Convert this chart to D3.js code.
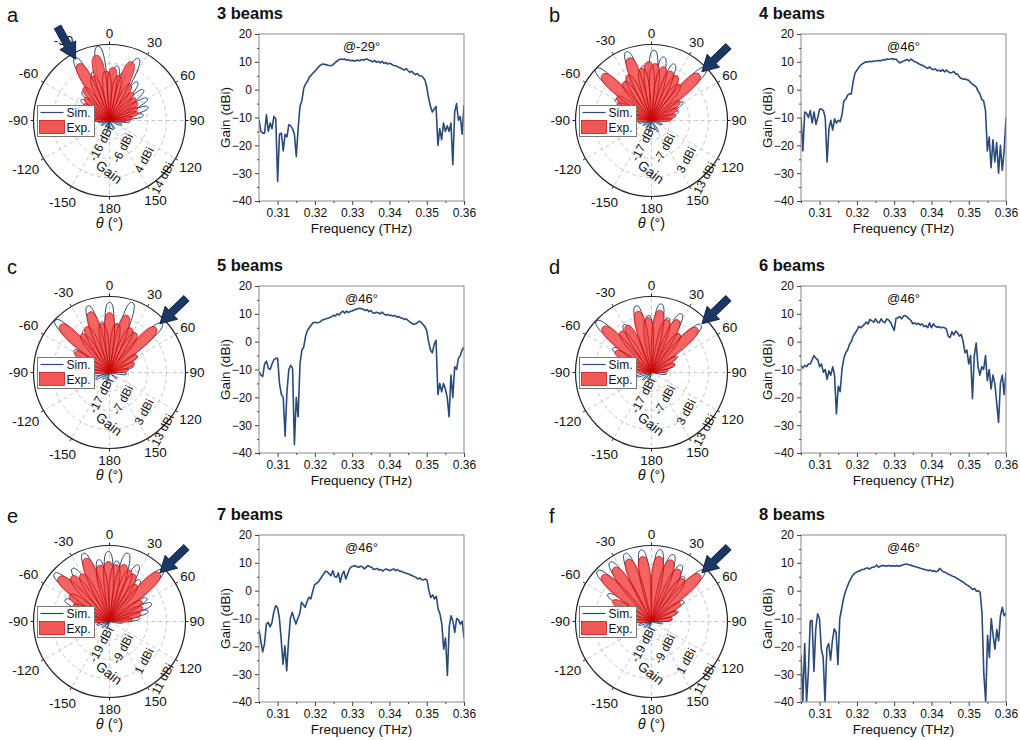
<!DOCTYPE html>
<html>
<head>
<meta charset="utf-8">
<script src="https://cdn.jsdelivr.net/npm/d3@7"></script>
<style>
  body { margin: 0; background: #fff; }
  text { font-family: "Liberation Sans", Arial, sans-serif; fill: #111; }
</style>
</head>
<body>
<svg id="fig" width="1020" height="740"></svg>
<script>
// ---- data ----
var letters = ["a", "b", "c", "d", "e", "f"];
var titles = ["3 beams", "4 beams", "5 beams", "6 beams", "7 beams", "8 beams"];
var steer = [-29, 46, 46, 46, 46, 46];
var ringTicks = [[-16, -6, 4, 14], [-17, -7, 3, 13], [-17, -7, 3, 13],
                 [-17, -7, 3, 13], [-19, -9, 1, 11], [-19, -9, 1, 11]];
var angleTicks = [0, 30, 60, 90, 120, 150, 180, -150, -120, -90, -60, -30];
var freqTicks = [0.31, 0.32, 0.33, 0.34, 0.35, 0.36];
var gainTicks = [20, 10, 0, -10, -20, -30, -40];

// gain vs frequency, 0.305 .. 0.360 THz (even steps)
var gainA = [-10.8,-15,-15.6,-15.6,-9,-15,-12,-14,-9.6,-10.5,-33,-16,-15.6,-22,-16,-17,-12.6,-13,-14,-16,-24,-14,-6,-4,0.5,2,3,4.5,5.2,6,6.6,7.4,8.2,8.8,9.2,9.1,9,8.8,8.7,8.6,9.2,9.8,10.3,10.8,11,10.8,11,10.6,10.8,10.4,10.6,10.2,10.5,10.6,10.4,10.8,10.6,10.9,11,10.6,10.4,10,10.5,9.8,10.2,9.6,10.2,9.4,9.8,9.2,9.5,9.2,8.8,8.6,8.4,8,7.8,7.4,7,7.6,6.8,6.2,6.6,5.8,5.4,5.8,5,5,4.4,3.6,1,-3,-6,-8,-7,-6,-20,-14,-18,-12,-15,-13,-15,-12,-27,-8,-5,-11,-9.6,-16,-5.5];
var gainB = [-10,-22,-8,-8.5,-10,-7.5,-12,-8,-12.5,-10,-7,-7,-7.5,-10,-26,-14,-11,-14.5,-10.5,-12,-11,-11.5,-9,-4,-3.5,-2,-1.5,-1.5,3,6,7,8,8.8,9.3,9.7,10,9.9,10.2,10,10.3,10.3,10.4,10.5,10.4,10.8,10.6,11,10.9,11,11.2,10.8,11,10.2,9.6,10,10.2,10.6,10.8,10.3,11,10.5,10,9.8,9.4,9,8.8,8.4,8,7.6,8.2,7.4,7.2,7.5,6.8,7,6.6,7.2,6.4,7,6.5,6,6.2,6.5,5.6,5.6,4.6,4,3.8,3.8,3.6,3.4,2.5,2,1.5,1,-0.5,-1.5,-3.5,-4,-7.5,-22,-17,-28,-18,-26,-19,-30,-20,-29,-22,-10];
var gainC = [-10.7,-12,-12.5,-8,-7,-9.5,-10,-8,-6.5,-6,-6,-15,-19,-20,-34,-18,-10,-8.5,-9.5,-37,-20,-27,-8,-3,-2,2,4,5,6,6.8,7,6.8,6.9,7.2,7.8,8,8.2,8.4,8.7,9,9.5,9.2,10,9.6,10.4,11,10.2,11,10.4,10.9,11,11.4,11.6,11.8,12,11.8,11.6,11.2,11.5,10.8,11.2,10.4,10.2,10.6,10.4,10,10.6,10,9.5,9.8,9.4,9.5,9.2,9.4,8.8,9,8.6,8.4,8,8.2,7.6,7,6.6,6.2,6.4,6.8,7.4,7,6.2,5.4,4,0,-3,-4,-1,0.5,-19,-15,-18,-15,-17,-20,-27,-12,-20,-9,-10,-6,-5,-3,-2];
var gainD = [-8.5,-9.5,-8.5,-9,-8,-8,-6.5,-5,-6,-6.5,-9,-8,-11,-10,-13.5,-10.5,-12,-9,-12,-26,-16,-18,-10,-6,-4,-3,-1,0,2,3,4,5.5,5,5.5,6.2,7,6.4,8,7.5,7,8.2,7,6.8,8.2,7.2,6.8,8.2,7.8,7,5.5,4,8.4,8.6,9,8.2,9.2,9.4,8.8,8.2,7.6,6.4,6.8,6.2,6.6,6,6.4,5.4,5.8,5,6.8,5,6.4,5.6,5.2,5.4,5,5.2,5,4.6,2,1.5,3.6,2.4,3.8,3.2,2,2.6,0,-4,-3,-8,-5,-20.5,-5,-0.5,-9,-12,-9,-10,-5,-14,-10,-17,-12,-15,-22,-29,-15,-12,-19,-11];
var gainE = [-14,-18,-22,-19,-12,-11.4,-13,-11.5,-7.8,-5.4,-6,-9.6,-17.4,-26.4,-19.8,-28.8,-18,-10,-7.8,-10,-12,-10,-8.4,-4.2,-5,-6,-4,-2.4,-3,-0.5,2,2.6,3,4,5,6,7,6.8,6,5.4,7.2,5,4.8,6.4,3,5.8,7,4.2,6,7.8,8.6,8.8,9,8.6,8.4,8.8,8.6,7.8,8.4,9,8.6,8.4,7.6,7.8,8,7.4,7.6,7,7.6,7.8,7.4,7.2,7.6,7.8,7.2,7.6,7,7,6.6,6.4,6.2,6,5.6,5.4,5,4.8,4.2,4.6,4,3.8,4.2,3.8,0,-2.5,-1.5,-3,-2,-6.6,-8.4,-12,-21,-17,-30.5,-13,-9,-11,-15,-10,-10.5,-12,-11,-17];
var gainF = [-23,-40,-19,-40,-29,-11,-10.7,-29,-13.7,-8.3,-10,-21,-24,-40,-20.6,-19,-25,-18,-13.7,-15,-26.6,-10,-6.5,-2.9,-0.5,1.3,3,4.3,5.5,6.2,6.6,7,7.2,7.6,7.6,8,8.2,7.8,8.2,8.4,8.6,9.2,8.4,8.8,9,9,8.8,9,9,8.8,9,8.8,9,8.8,9,9.2,9.4,9.6,9.4,9.2,9,8.8,8.6,8.4,8.2,8,7.8,7.6,7.4,7.2,7.4,7,7.2,6.8,7,8,7.4,6.8,6.6,6.2,5.8,5.6,5.2,5,4.6,4.2,3.8,3.4,3,2.4,2,1.6,1,0.4,0.8,-0.2,0,-0.6,-8,-30,-40,-16,-24,-10,-16,-21,-14,-18,-9,-6,-9,-8];

// radiation lobes: [angle (deg), peak gain (dBi)]
var simA = [[-170,-21],[-150,-22],[-120,-21],[-100,-20],[-88,-15],[-76,-13],[-64,-10],[-54,-7.5],[-43,-5],[-29,11.5],[-19,1],[-9,13.5],[0,-1],[8,3],[16,0],[25,10],[36,-1],[48,-2],[60,-3],[71,-4.5],[81,-8],[92,-15],[110,-19],[150,-21],[180,-22]];
var expA = [[-88,-18],[-78,-15],[-68,-13],[-58,-10],[-48,-8.5],[-38,-4],[-29,8],[-21,-1],[-12,9],[-4,0],[4,2],[12,-2],[21,7],[30,-4],[40,-7],[50,-8],[58,-8.5],[67,-10],[75,-10.5],[83,-14],[90,-17]];
var simB = [[-170,-21],[-145,-22],[-120,-22],[-100,-20],[-85,-14],[-72,-9],[-60,-5],[-47,13],[-33,-2],[-20,11.5],[-9,2],[2,10],[11,7],[22,5],[31,-1],[46,13],[60,-8],[72,-12],[85,-16],[110,-21],[150,-20]];
var expB = [[-88,-17],[-76,-12],[-64,-7],[-56,-5],[-47,8.4],[-36,-2],[-28,0],[-20,8],[-11,1],[-3,4],[4,3],[13,2],[22,1],[30,0],[38,-3],[46,8],[56,-9],[66,-12],[78,-14],[88,-17]];
var simC = [[-165,-21],[-135,-22],[-115,-19],[-100,-18],[-85,-16],[-70,-9],[-58,-5],[-46,12.6],[-32,-1],[-18,9.8],[-9,0],[0,9.8],[9,-1],[18,11.7],[30,-2],[47,10.6],[60,-10],[75,-14],[95,-18],[130,-22]];
var expC = [[-85,-17],[-72,-10],[-60,-6],[-46,9],[-36,-2],[-27,0],[-18,6.5],[-9,-1],[0,4.5],[9,-1],[17,4.5],[26,-1],[34,-2],[46,7],[58,-10],[70,-13],[82,-17]];
var simD = [[-160,-22],[-130,-21],[-105,-19],[-85,-14],[-70,-9],[-58,-3],[-47,12.6],[-30,2],[-13,9],[-3,3],[8,9.4],[17,3],[27,7.6],[36,-2],[46,9],[58,-11],[72,-14],[95,-19]];
var expD = [[-85,-17],[-72,-11],[-60,-5],[-47,8],[-37,0],[-28,1],[-13,6],[-4,2],[8,6],[17,2],[27,4],[36,-2],[46,6.5],[58,-12],[70,-14],[82,-18]];
var simE = [[-160,-25],[-130,-24],[-105,-22],[-88,-16],[-76,-10],[-64,-3],[-49,9.4],[-35,5],[-21,9.4],[-10,4],[-1,7.8],[7,3],[15,8.2],[27,4.3],[36,-2],[46,10],[58,-6],[67,-5],[75,-8],[84,-13],[95,-22]];
var expE = [[-88,-18],[-78,-12],[-66,-8],[-57,-4],[-49,6.5],[-40,2],[-31,0],[-21,6.5],[-10,1],[-1,2.6],[7,1],[15,2],[22,0],[28,-1],[36,-5],[46,7.6],[58,-9],[67,-10],[76,-12],[85,-17]];
var simF = [[-160,-25],[-130,-24],[-105,-22],[-88,-16],[-72,-10],[-58,-2],[-47,9.9],[-35,9],[-21,9.4],[-8,9],[7,9],[18,8],[28,4.5],[36,0],[46,9.5],[58,-9],[70,-14],[85,-18],[100,-23]];
var expF = [[-88,-18],[-76,-12],[-62,-6],[-47,6.5],[-35,5.5],[-21,6],[-8,5.5],[7,5.5],[18,5],[28,2],[37,-1],[46,6.5],[58,-11],[70,-15],[82,-18]];

var gains = [gainA, gainB, gainC, gainD, gainE, gainF];
var sims = [simA, simB, simC, simD, simE, simF];
var exps = [expA, expB, expC, expD, expE, expF];

// ---- layout ----
var svg = d3.select("#fig");
var R = 76;
var colX = [0, 542], rowY = [0, 252, 501];
var navy = "#2a4a7b";

// each lobe drawn as a petal from the origin out to its peak gain
function petalPath(lobes, rScale, halfWidth) {
  var hw = halfWidth * Math.PI / 180;
  function pt(a, r) { return [r * Math.sin(a), -r * Math.cos(a)].map(function (v) { return v.toFixed(2); }).join(","); }
  var d = "";
  lobes.slice().sort(function (p, q) { return p[0] - q[0]; }).forEach(function (l) {
    var a = l[0] * Math.PI / 180, L = rScale(l[1]);
    d += "M0,0C" + pt(a - hw, 0.55 * L) + " " + pt(a - hw * 0.8, 1.02 * L) + " " + pt(a, L) +
         "C" + pt(a + hw * 0.8, 1.02 * L) + " " + pt(a + hw, 0.55 * L) + " 0,0Z";
  });
  return d;
}

function drawPolar(g, k) {
  var ticks = ringTicks[k];
  var r = d3.scaleLinear().domain([ticks[0] - 10, ticks[3]]).range([0, R]).clamp(true);

  // grid
  g.selectAll(".ring").data(ticks.slice(0, 3)).join("circle")
    .attr("r", function (d) { return r(d); })
    .attr("fill", "none").attr("stroke", "#c8c8c8").attr("stroke-dasharray", "4,3");
  g.selectAll(".spoke").data(d3.range(0, 360, 30)).join("line")
    .attr("x1", 0).attr("y1", 0)
    .attr("x2", function (d) { return R * Math.sin(d * Math.PI / 180); })
    .attr("y2", function (d) { return -R * Math.cos(d * Math.PI / 180); })
    .attr("stroke", "#c8c8c8").attr("stroke-dasharray", "4,3");

  // patterns
  g.append("path").attr("d", petalPath(sims[k], r, 7))
    .attr("fill", "none").attr("stroke", navy).attr("stroke-width", 1);
  g.append("path").attr("d", petalPath(exps[k], r, 9.5))
    .attr("fill", "#f25757").attr("fill-opacity", 0.92)
    .attr("stroke", "#c80000").attr("stroke-width", 0.7);

  g.append("circle").attr("r", R).attr("fill", "none").attr("stroke", "#222").attr("stroke-width", 1.2);
  g.selectAll(".otick").data(d3.range(0, 360, 30)).join("line")
    .attr("x1", function (d) { return R * Math.sin(d * Math.PI / 180); })
    .attr("y1", function (d) { return -R * Math.cos(d * Math.PI / 180); })
    .attr("x2", function (d) { return (R + 3) * Math.sin(d * Math.PI / 180); })
    .attr("y2", function (d) { return -(R + 3) * Math.cos(d * Math.PI / 180); })
    .attr("stroke", "#222");

  // angle labels
  function lpos(d, f) {
    var a = d * Math.PI / 180, w = String(d).length * 7.5;
    var dist = R + 4 + Math.abs(Math.sin(a)) * w / 2 + Math.abs(Math.cos(a)) * 7.5;
    return f === "x" ? dist * Math.sin(a) : -dist * Math.cos(a);
  }
  g.selectAll(".alab").data(angleTicks).join("text")
    .attr("text-anchor", "middle").attr("dy", "0.35em")
    .style("font-size", "13.5px")
    .attr("x", function (d) { return lpos(d, "x"); })
    .attr("y", function (d) { return lpos(d, "y"); })
    .text(function (d) { return d; });

  // radial axis labels
  var rp = [[-8.5, 23], [13, 27.5], [34.5, 39.5], [53, 57.5]];
  g.selectAll(".rlab").data(ticks).join("text")
    .attr("text-anchor", "middle").attr("dy", "0.35em")
    .style("font-size", "12px")
    .attr("transform", function (d, i) { return "translate(" + rp[i][0] + "," + rp[i][1] + ") rotate(-62)"; })
    .text(function (d) { return d + " dBi"; });
  g.append("text").attr("text-anchor", "middle").attr("dy", "0.35em")
    .attr("transform", "translate(-0.5,51.5) rotate(38)")
    .style("font-size", "13.5px").text("Gain");

  // legend
  var lg = g.append("g").attr("transform", "translate(-72,-15)");
  lg.append("rect").attr("width", 57).attr("height", 31).attr("fill", "#fff").attr("stroke", "#777");
  lg.append("line").attr("x1", 3).attr("x2", 26).attr("y1", 7).attr("y2", 7).attr("stroke", navy).attr("stroke-width", 1.2);
  lg.append("text").attr("x", 29).attr("y", 11.5).style("font-size", "12px").text("Sim.");
  lg.append("rect").attr("x", 2).attr("y", 15).attr("width", 25).attr("height", 13)
    .attr("fill", "#f25757").attr("stroke", "#c80000").attr("stroke-width", 0.7);
  lg.append("text").attr("x", 29).attr("y", 26.5).style("font-size", "12px").text("Exp.");

  // steering arrow
  g.append("path")
    .attr("d", "M0," + (-R + 6) + "L-9," + (-R - 10) + "L-3.8," + (-R - 10) + "L-3.8," + (-R - 31) +
               "L3.8," + (-R - 31) + "L3.8," + (-R - 10) + "L9," + (-R - 10) + "Z")
    .attr("transform", "rotate(" + steer[k] + ")")
    .attr("fill", "#1d3765").attr("stroke", "#0b1a33").attr("stroke-width", 0.8);

  // theta label
  var th = g.append("text").attr("text-anchor", "middle").attr("y", 107).style("font-size", "14.5px");
  th.append("tspan").style("font-style", "italic").text("\u03b8");
  th.append("tspan").text(" (\u00b0)");
}

function drawLine(g, k) {
  var W = 205, H = 167;
  var data = gains[k];
  var step = 0.055 / (data.length - 1);
  var x = d3.scaleLinear().domain([0.305, 0.36]).range([0, W]);
  var y = d3.scaleLinear().domain([-40, 20]).range([H, 0]);

  g.append("clipPath").attr("id", "clip" + k).append("rect").attr("width", W).attr("height", H);
  g.append("path").datum(data)
    .attr("clip-path", "url(#clip" + k + ")")
    .attr("d", d3.line().x(function (d, i) { return x(0.305 + i * step); }).y(function (d) { return y(d); }))
    .attr("fill", "none").attr("stroke", navy).attr("stroke-width", 1.6).attr("stroke-linejoin", "round");

  g.append("rect").attr("width", W).attr("height", H).attr("fill", "none").attr("stroke", "#8a8a8a").attr("stroke-width", 1);

  g.append("g").call(d3.axisLeft(y).tickValues(gainTicks).tickSize(4).tickPadding(3));
  g.append("g").call(d3.axisLeft(y).tickValues([15, 5, -5, -15, -25, -35]).tickSize(2).tickFormat(""));
  g.append("g").attr("transform", "translate(0," + H + ")")
    .call(d3.axisBottom(x).tickValues(freqTicks).tickSize(4).tickPadding(3).tickFormat(d3.format(".2f")));
  g.append("g").attr("transform", "translate(0," + H + ")")
    .call(d3.axisBottom(x).tickValues([0.305, 0.315, 0.325, 0.335, 0.345, 0.355]).tickSize(2).tickFormat(""));
  g.selectAll(".domain").remove();
  g.selectAll(".tick line").attr("stroke", "#444");
  g.selectAll(".tick text").style("font-size", "12px").style("font-family", "Liberation Sans, Arial, sans-serif").attr("fill", "#111");

  g.append("text").attr("text-anchor", "middle").attr("x", W / 2).attr("y", H + 32)
    .style("font-size", "13.5px").text("Frequency (THz)");
  g.append("text").attr("text-anchor", "middle").attr("transform", "translate(-29," + (H / 2) + ") rotate(-90)")
    .style("font-size", "13.5px").text("Gain (dBi)");
  g.append("text").attr("text-anchor", "middle").attr("x", W / 2).attr("y", 16.5)
    .style("font-size", "13px").text("@" + steer[k] + "\u00b0");
}

letters.forEach(function (l, k) {
  var ox = colX[k % 2], oy = rowY[Math.floor(k / 2)];
  svg.append("text").attr("x", 7 + ox).attr("y", 22 + oy).style("font-size", "20px").text(l);
  svg.append("text").attr("x", 217 + ox).attr("y", 19 + oy).style("font-size", "16.5px").style("font-weight", "bold").text(titles[k]);
  drawPolar(svg.append("g").attr("transform", "translate(" + (109.5 + ox) + "," + (120.5 + oy) + ")"), k);
  drawLine(svg.append("g").attr("transform", "translate(" + (259 + ox) + "," + (34 + oy) + ")"), k);
});
</script>
</body>
</html>
